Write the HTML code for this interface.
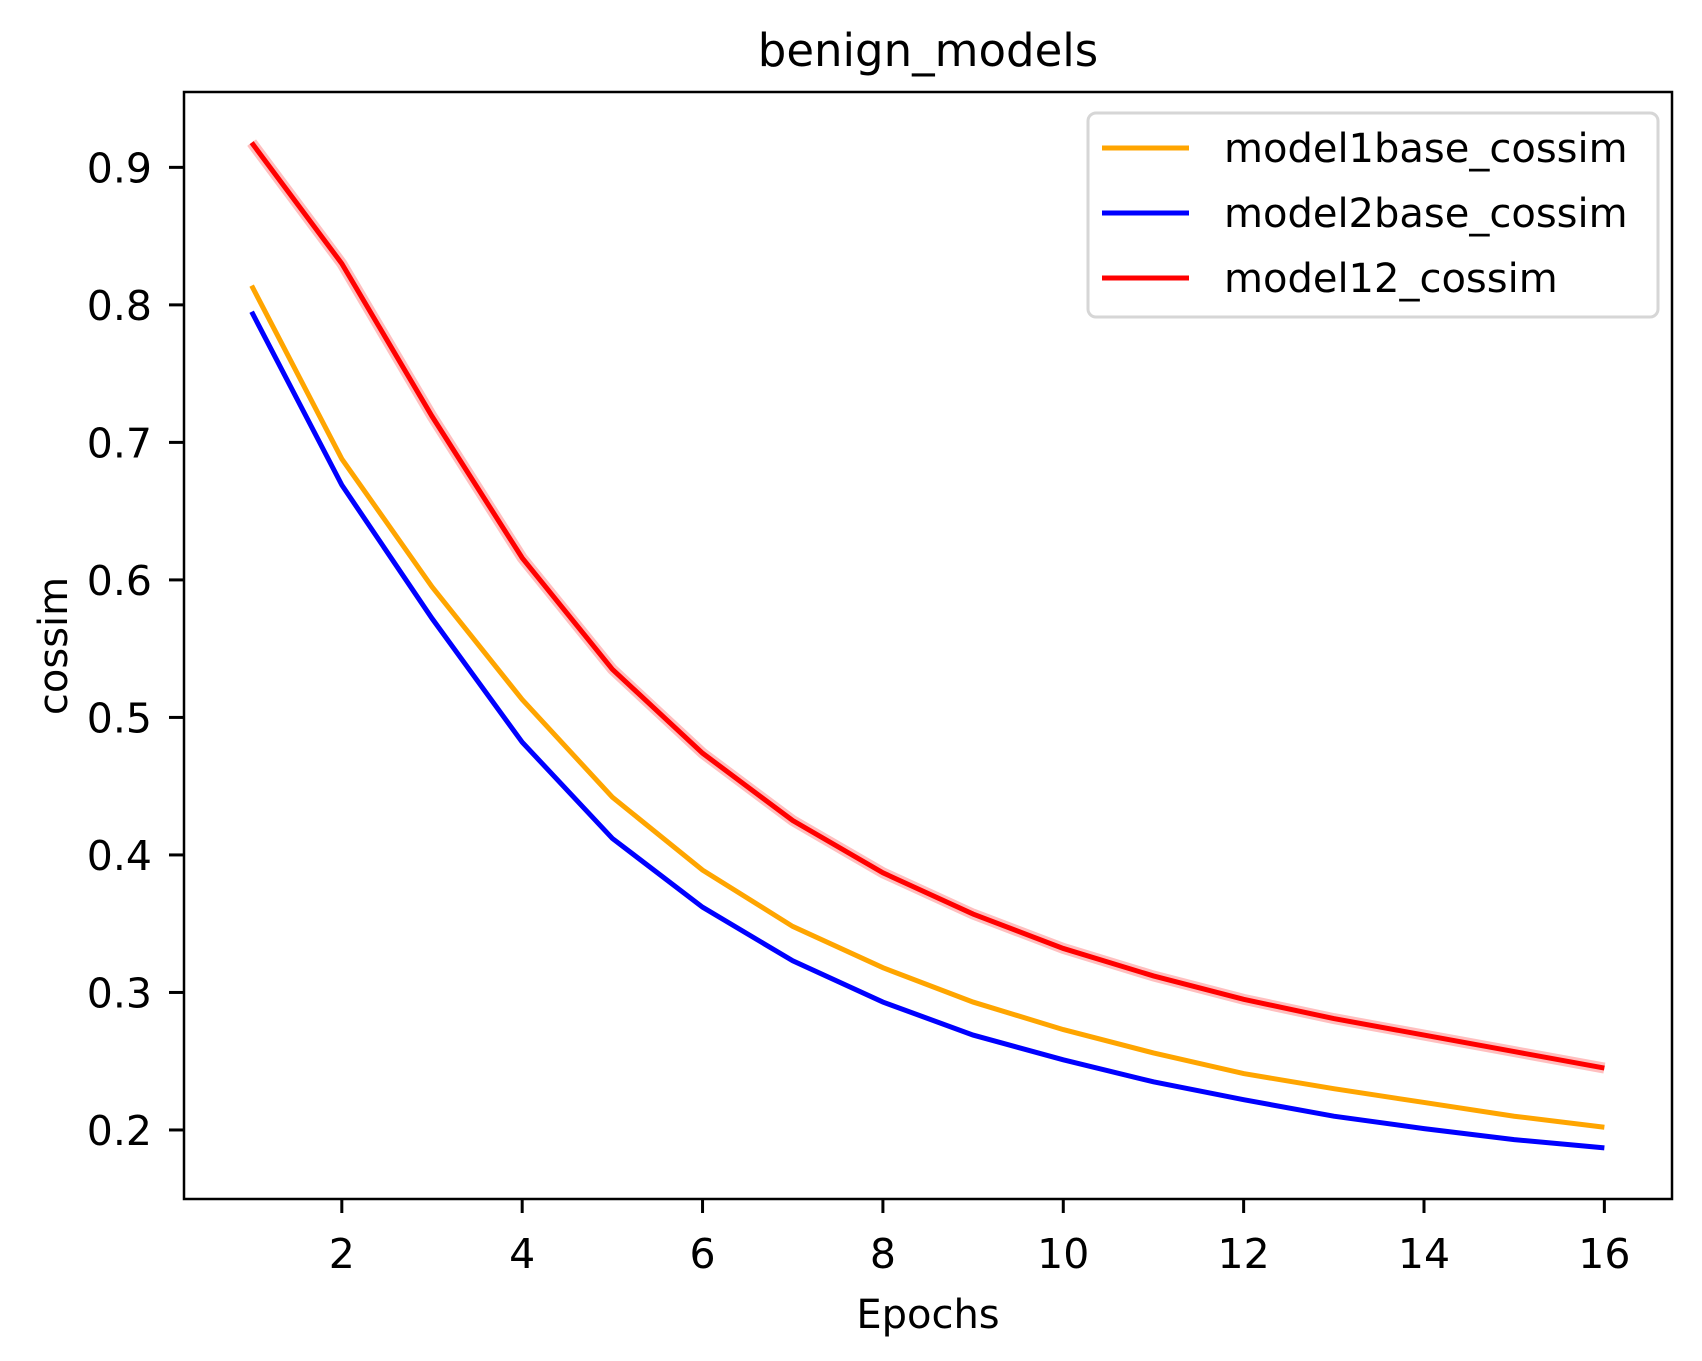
<!DOCTYPE html>
<html><head><meta charset="utf-8"><style>
body{margin:0;background:#fff}
svg{display:block;font-family:"DejaVu Sans","Liberation Sans",sans-serif}
</style></head><body>
<svg id="chart" width="1702" height="1361" viewBox="0 0 1702 1361" xmlns="http://www.w3.org/2000/svg">
<rect width="1702" height="1361" fill="#fff"/>
<text x="928" y="66" text-anchor="middle" font-size="45">benign_models</text>
<text x="928" y="1328" text-anchor="middle" font-size="40">Epochs</text>
<text transform="translate(67,646) rotate(-90)" text-anchor="middle" font-size="40">cossim</text>
<g id="series"></g>
<rect x="184" y="92" width="1488" height="1107" fill="none" stroke="#000" stroke-width="2.5"/>
<g id="ticks"></g>
<g>
<rect x="1088" y="113" width="570" height="204" rx="8" fill="#fff" fill-opacity="0.8" stroke="#d6d6d6" stroke-width="3"/>
<line x1="1102" y1="148" x2="1189" y2="148" stroke="orange" stroke-width="5"/>
<text x="1224" y="162" font-size="40">model1base_cossim</text>
<line x1="1102" y1="213" x2="1189" y2="213" stroke="blue" stroke-width="5"/>
<text x="1224" y="227" font-size="40">model2base_cossim</text>
<line x1="1102" y1="278" x2="1189" y2="278" stroke="red" stroke-width="5"/>
<text x="1224" y="292" font-size="40">model12_cossim</text>
</g>
</svg>
<script>
const epochs=[1,2,3,4,5,6,7,8,9,10,11,12,13,14,15,16];
const model1base=[0.814,0.688,0.595,0.513,0.442,0.389,0.348,0.318,0.293,0.273,0.256,0.241,0.230,0.220,0.210,0.202];
const model2base=[0.795,0.669,0.572,0.482,0.412,0.362,0.323,0.293,0.269,0.251,0.235,0.222,0.210,0.201,0.193,0.187];
const model12=[0.918,0.830,0.719,0.616,0.535,0.474,0.425,0.387,0.357,0.332,0.312,0.295,0.281,0.269,0.257,0.245];
const xTicks=[2,4,6,8,10,12,14,16];
const yTicks=[0.2,0.3,0.4,0.5,0.6,0.7,0.8,0.9];
const yTickLabels=["0.2","0.3","0.4","0.5","0.6","0.7","0.8","0.9"];
const NS="http://www.w3.org/2000/svg";
const L=184,R=1672,T=92,B=1199;
const xMin=0.25,xMax=16.75,yMin=0.1498,yMax=0.9548;
function sx(v){return L+(v-xMin)/(xMax-xMin)*(R-L);}
function sy(v){return B-(v-yMin)/(yMax-yMin)*(B-T);}
function mk(tag,attrs,parent){const e=document.createElementNS(NS,tag);for(const k in attrs)e.setAttribute(k,attrs[k]);parent.appendChild(e);return e;}
const ticks=document.getElementById('ticks');
xTicks.forEach(v=>{
  const ln=mk('line',{x1:sx(v),x2:sx(v),y1:B,y2:B+14,stroke:'#000','stroke-width':3},ticks);
  
  
  const t=mk('text',{x:sx(v),y:1268,'text-anchor':'middle','font-size':41},ticks);
  t.textContent=String(v);
  
  
});
yTicks.forEach((v,i)=>{
  const ln=mk('line',{x1:L-15,x2:L,y1:sy(v),y2:sy(v),stroke:'#000','stroke-width':3},ticks);
  
  
  const t=mk('text',{x:L-32,y:sy(v)+15,'text-anchor':'end','font-size':41},ticks);
  t.textContent=yTickLabels[i];
  
  
});
const series=document.getElementById('series');
function pts(arr){return arr.map((v,i)=>sx(epochs[i])+','+sy(v)).join(' ');}
const band=mk('polyline',{points:pts(model12),fill:'none',stroke:'red','stroke-opacity':0.25,'stroke-width':11},series);


const s1=mk('polyline',{points:pts(model1base),fill:'none',stroke:'orange','stroke-width':5},series);


const s2=mk('polyline',{points:pts(model2base),fill:'none',stroke:'blue','stroke-width':5},series);


const s3=mk('polyline',{points:pts(model12),fill:'none',stroke:'red','stroke-width':5},series);


</script>
</body></html>
